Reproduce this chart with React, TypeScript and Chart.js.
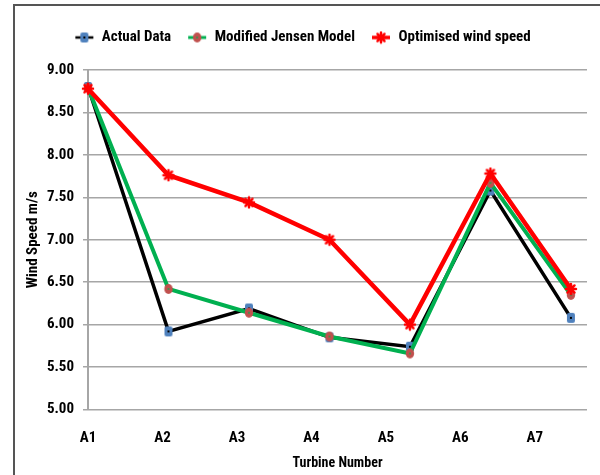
import React, { useEffect, useRef } from 'react';
import { Chart, registerables } from 'chart.js';

Chart.register(...registerables);

// Turbine row and wind speed (m/s) for each series
const turbines = ['A1', 'A2', 'A3', 'A4', 'A5', 'A6', 'A7'];
const actualData = [8.8, 5.92, 6.19, 5.85, 5.74, 7.58, 6.08];
const jensenModel = [8.79, 6.42, 6.14, 5.86, 5.66, 7.67, 6.35];
const optimisedSpeed = [8.78, 7.76, 7.44, 7.0, 6.0, 7.78, 6.42];

const seriesLabels = ['Actual Data', 'Modified Jensen Model', 'Optimised wind speed'];
const lineColors = ['#000000', '#00b050', '#ff0000'];
const lineWidths = [3.5, 4, 4.5];

const FONT = "'Roboto Condensed', 'Liberation Sans Narrow', Lato, sans-serif";

type MarkerKind = 'square' | 'circle' | 'star';
const markerKinds: MarkerKind[] = ['square', 'circle', 'star'];

function drawMarker(ctx: CanvasRenderingContext2D, kind: MarkerKind, cx: number, cy: number) {
  if (kind === 'square') {
    ctx.fillStyle = '#4f81bd';
    const w = 8, h = 10, r = 2;
    ctx.beginPath();
    ctx.roundRect(cx - w / 2, cy - h / 2, w, h, r);
    ctx.fill();
    ctx.fillStyle = '#000';
    ctx.fillRect(cx - 1, cy - 1, 2, 2);
  } else if (kind === 'circle') {
    ctx.fillStyle = '#c0504d';
    ctx.beginPath();
    ctx.ellipse(cx, cy, 4.2, 5, 0, 0, Math.PI * 2);
    ctx.fill();
    ctx.fillStyle = '#00b050';
    ctx.fillRect(cx - 0.75, cy - 0.75, 1.5, 1.5);
  } else {
    ctx.strokeStyle = '#ff0000';
    ctx.lineWidth = 2.5;
    ctx.lineCap = 'round';
    const r = 5;
    ctx.beginPath();
    for (let k = 0; k < 4; k++) {
      const a = (k * Math.PI) / 4;
      ctx.moveTo(cx - Math.cos(a) * r, cy - Math.sin(a) * r);
      ctx.lineTo(cx + Math.cos(a) * r, cy + Math.sin(a) * r);
    }
    ctx.stroke();
  }
}

function makePointCanvas(kind: MarkerKind): HTMLCanvasElement {
  const c = document.createElement('canvas');
  c.width = 14;
  c.height = 14;
  const ctx = c.getContext('2d')!;
  drawMarker(ctx, kind, 7, 7);
  return c;
}

function makeLegendIcon(kind: MarkerKind, color: string, width: number): HTMLCanvasElement {
  const c = document.createElement('canvas');
  c.width = 20;
  c.height = 14;
  const ctx = c.getContext('2d')!;
  ctx.strokeStyle = color;
  ctx.lineWidth = width;
  ctx.beginPath();
  ctx.moveTo(1, 7);
  ctx.lineTo(19, 7);
  ctx.stroke();
  drawMarker(ctx, kind, 10, 7);
  return c;
}

export default function App() {
  const canvasRef = useRef<HTMLCanvasElement | null>(null);

  useEffect(() => {
    if (!canvasRef.current) return;
    const pointImages = markerKinds.map((k) => makePointCanvas(k));
    const legendIcons = markerKinds.map((k, i) => makeLegendIcon(k, lineColors[i], lineWidths[i] - 1));
    const series = [actualData, jensenModel, optimisedSpeed];

    const chart = new Chart(canvasRef.current, {
      type: 'line',
      data: {
        datasets: series.map((values, i) => ({
          label: seriesLabels[i],
          data: values.map((y, x) => ({ x, y })),
          borderColor: lineColors[i],
          backgroundColor: lineColors[i],
          borderWidth: lineWidths[i],
          pointStyle: pointImages[i] as any,
          pointRadius: 5,
          tension: 0,
          clip: false as any,
          xAxisID: 'x',
          yAxisID: 'y',
          order: 3 - i,
        })),
      },
      options: {
        animation: false,
        responsive: false,
        layout: { padding: { left: 18, right: 13, top: 14, bottom: 0 } },
        scales: {
          x: { type: 'linear', min: 0, max: 6.2, display: false },
          xLabels: {
            type: 'linear',
            position: 'bottom',
            min: 0,
            max: 6.7,
            afterFit: (s: any) => {
              s.height = 65.5;
              s.paddingRight = 0;
            },
            ticks: {
              stepSize: 1,
              includeBounds: false,
              autoSkip: false,
              maxRotation: 0,
              padding: 20,
              color: '#000',
              font: { family: FONT, size: 15, weight: 'bold' },
              callback: (v: any) => turbines[v as number] ?? '',
            },
            grid: { display: false, drawTicks: false },
            border: { display: false },
            title: {
              display: true,
              text: 'Turbine Number',
              color: '#000',
              font: { family: FONT, size: 14, weight: 'bold' },
              padding: { top: 0, bottom: 3 },
            },
          },
          y: {
            type: 'linear',
            min: 5,
            max: 9,
            afterFit: (s: any) => {
              s.width = 70;
            },
            ticks: {
              stepSize: 0.5,
              padding: 9,
              color: '#000',
              font: { family: FONT, size: 15, weight: 'bold' },
              callback: (v: any) => Number(v).toFixed(2),
            },
            grid: { color: '#a6a6a6', lineWidth: 1.5, tickLength: 5 },
            border: { color: '#a6a6a6', width: 2 },
            title: {
              display: true,
              text: 'Wind Speed m/s',
              color: '#000',
              font: { family: FONT, size: 15, weight: 'bold' },
              padding: { top: 6, bottom: 0 },
            },
          },
        } as any,
        plugins: {
          tooltip: { enabled: false },
          legend: {
            position: 'top',
            labels: {
              usePointStyle: true,
              pointStyleWidth: 20,
              boxHeight: 12,
              padding: 16,
              color: '#000',
              font: { family: FONT, size: 15, weight: 'bold' },
              generateLabels: () =>
                seriesLabels.map((text, i) => ({
                  text,
                  datasetIndex: i,
                  pointStyle: legendIcons[i] as any,
                  fillStyle: 'transparent',
                  strokeStyle: 'transparent',
                  lineWidth: 0,
                  hidden: false,
                  fontColor: '#000',
                })),
            },
          },
        },
      },
      plugins: [
        {
          id: 'legendGap',
          beforeInit(c: any) {
            const fit = c.legend.fit;
            c.legend.fit = function () {
              fit.call(this);
              this.height += 15;
            };
          },
        },
      ],
    });
    return () => chart.destroy();
  }, []);

  return (
    <div style={{ position: 'fixed', left: 0, top: 0, width: 600, height: 475, background: '#fff' }}>
      <div
        style={{
          position: 'absolute',
          left: 13,
          top: 4,
          width: 600,
          height: 480,
          borderLeft: '2px solid #555',
          borderTop: '2px solid #555',
          boxSizing: 'border-box',
        }}
      />
      <canvas ref={canvasRef} width={600} height={475} style={{ position: 'absolute', left: 0, top: 0 }} />
    </div>
  );
}
